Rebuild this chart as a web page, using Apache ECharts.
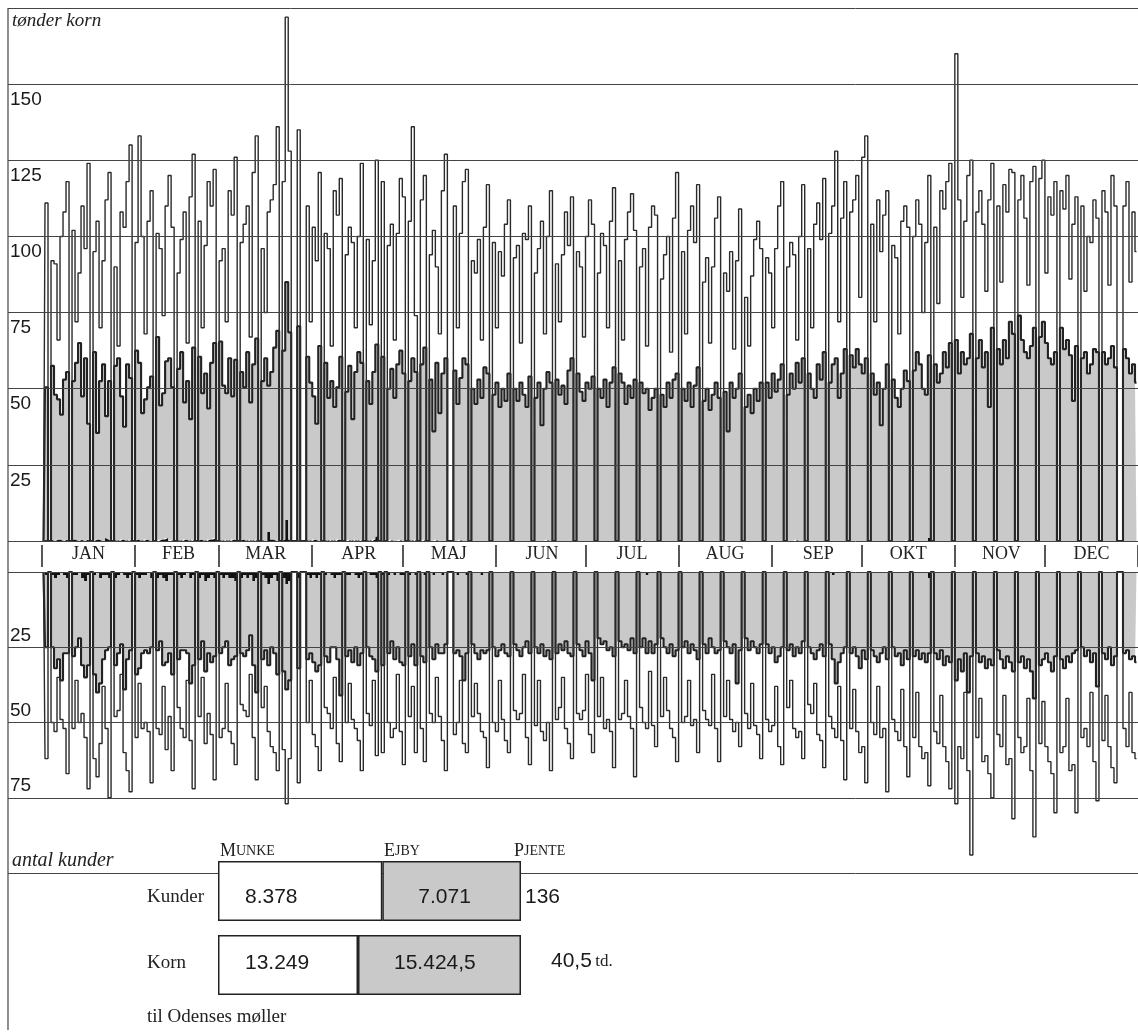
<!DOCTYPE html>
<html><head><meta charset="utf-8">
<script src="https://cdn.jsdelivr.net/npm/echarts@6/dist/echarts.min.js"></script>
<style>html,body{margin:0;padding:0;background:#fff}#c{width:1138px;height:1035px}</style>
</head><body><div id="c"></div>
<script>
// ---- labels ----
const months = ['JAN','FEB','MAR','APR','MAJ','JUN','JUL','AUG','SEP','OKT','NOV','DEC'];
const monthDays = [31,28,31,30,31,30,31,31,30,31,30,31];
const kornTicks = [25,50,75,100,125,150];
const kunderTicks = [25,50,75];

// ---- daily values 1937 (tønder korn), week rows Mon..Sun ----
const totalKorn = [
0,111,0,
92,91,66,100,108,118,0,
102,72,88,110,96,124,0,
95,105,70,92,112,121,0,
90,64,108,103,118,130,0,
98,133,100,68,105,115,0,
101,96,74,110,120,103,0,
88,99,108,65,113,127,0,
105,70,97,118,110,122,0,
92,96,72,115,107,126,0,
98,104,110,67,121,133,0,
96,75,108,112,117,136,0,
118,172,128,0,0,135,0,
0,110,72,103,92,121,0,
101,96,64,115,107,119,0,
94,103,98,70,100,124,0,
99,71,92,125,0,118,0,
97,104,66,101,119,113,0,
105,136,74,0,112,120,0,
94,102,90,68,115,127,0,
0,110,70,101,118,122,0,
92,88,99,66,103,117,0,
98,70,95,87,104,112,0,
93,97,65,101,99,110,0,
88,96,105,68,100,115,0,
91,72,94,108,97,113,0,
95,90,67,100,112,104,0,
88,101,97,70,105,116,0,
92,66,99,108,114,102,0,
90,96,64,103,110,107,0,
86,94,100,62,106,121,0,
95,68,102,110,98,117,0,
85,93,65,90,106,113,0,
88,82,95,63,92,109,0,
80,64,87,99,105,96,0,
93,88,70,96,110,118,0,
90,98,94,66,100,117,0,
96,70,104,111,99,119,0,
101,110,128,72,106,118,0,
108,112,120,80,126,133,0,
104,72,112,95,107,115,0,
97,93,68,105,110,103,0,
100,112,104,75,98,120,0,
103,78,115,109,118,124,0,
160,112,80,105,120,125,0,
108,115,104,82,112,124,0,
110,85,117,108,122,121,0,
112,120,106,84,118,123,0,
119,125,88,113,107,118,0,
115,109,120,86,104,113,0,
110,82,100,98,112,106,0,
115,108,84,120,110,0,0,
110,118,85,108,95
];
const ejbyKorn = [
0,50,0,
57,48,46,41,53,55,0,
52,58,65,47,60,38,0,
62,35,52,58,40,52,0,
57,60,47,37,58,53,0,
62,58,42,46,50,54,0,
67,44,48,58,60,50,0,
56,62,45,52,40,63,0,
60,48,55,43,58,64,0,
65,51,48,60,47,59,0,
55,50,62,45,58,66,0,
52,60,48,55,63,69,0,
62,78,68,0,0,70,0,
0,60,52,47,38,64,0,
58,47,52,44,50,60,0,
49,57,40,55,62,58,0,
52,45,55,63,0,60,0,
50,56,47,58,62,55,0,
52,60,55,0,58,63,0,
53,36,58,42,55,60,0,
0,56,45,53,60,58,0,
50,45,53,47,57,55,0,
48,52,44,50,46,55,0,
50,46,52,48,44,54,0,
47,52,38,50,55,52,0,
53,48,51,45,56,60,0,
55,49,46,52,50,54,0,
50,47,53,44,52,57,0,
55,52,45,51,47,53,0,
52,48,50,43,47,50,0,
48,44,52,47,53,55,0,
50,46,52,44,51,57,0,
46,50,43,48,52,47,0,
49,36,52,47,50,55,0,
44,48,42,50,46,52,0,
52,47,55,49,53,58,0,
48,55,50,58,52,60,0,
55,50,47,58,53,62,0,
52,58,60,47,55,63,0,
61,57,63,58,55,60,0,
55,48,52,38,50,58,0,
53,47,44,50,56,52,0,
56,62,58,50,48,60,0,
58,52,55,62,57,65,0,
66,55,62,58,60,68,0,
60,66,57,62,44,70,0,
63,58,66,60,72,68,0,
74,66,62,60,64,70,0,
67,72,65,60,58,62,0,
70,63,66,61,46,64,0,
60,62,55,58,63,62,0,
62,58,60,64,57,0,0,
63,60,55,58,52
];
const pjenteKorn = [
0,0.5,0,
0.5,0,0.5,0.5,0,0.5,0,
0.5,0.5,0,0.5,0,0.5,0,
0,0.5,0.5,0,1,0.5,0,
0.5,0,0.5,0.5,0,0.5,0,
0.5,0.5,0,0.5,0.5,0,0,
0,0.5,0.5,1,0,0.5,0,
0.5,0,0.5,0.5,0,0.5,0,
0.5,0.5,0,0.5,0.5,1,0,
0.5,0,0.5,0,0.5,0.5,0,
0.5,0.5,0,0.5,0,0.5,0,
0.5,0,3,0.5,0.5,0,0,
0.5,7,0.5,0,0,0.5,0,
0,0.5,0,0.5,0.5,0,0,
0.5,0,0.5,0,0.5,0.5,0,
0,0.5,0,0.5,0,0.5,0,
0.5,0,0.5,1.5,0,0.5,0,
0,0.5,0,0,0.5,0,0,
0.5,0,0.5,0,0,0.5,0,
0,0,0.5,0,0,0,0,
0,0,0,0.5,0,0,0,
0,0,0,0,0,0,0,
0,0,0,0,0,0,0,
0,0,0,0,0,0,0,
0,0,0,0,0.5,0,0,
0,0,0,0,0,0,0,
0,0,0,0,0,0,0,
0,0,0,0,0,0,0,
0,0,0,0,0,0,0,
0,0.5,0,0,0,0,0,
0,0,0,0,0,0,0,
0,0,0,0,0,0,0,
0,0,0,0,0,0,0,
0,0,0,0,0,0,0,
0,0,0,0,0,0,0,
0,0,0,0,0,0,0,
0,0,0,0.5,0,0,0,
0,0,0,0,0,0,0,
0,0,0,0,0,0,0,
0,0,0,0,0,0,0,
0,0,0,0,0,0,0,
0,0,0,0,0,0.5,0,
0,0,0,0,0,1,0,
0,0,0,0,0,0,0,
0,0,0,0,0,0,0,
0,0,0,0,0,0,0,
0,0,0,0,0,0,0,
0,0,0,0,0,0,0,
0,0,0,0,0,0,0,
0,0,0,0,0,0,0,
0,0,0,0,0
];

// ---- daily values (antal kunder) ----
const totalKunder = [
0,62,0,
50,53,35,49,52,67,0,
52,36,50,47,55,72,0,
62,68,57,38,52,75,0,
48,46,34,60,66,73,0,
55,37,52,50,53,70,0,
52,54,38,59,48,66,0,
45,52,55,36,56,72,0,
48,35,57,47,54,69,0,
55,52,37,53,57,64,0,
44,46,48,34,55,69,0,
45,38,53,58,60,66,0,
59,77,62,0,0,70,0,
0,50,36,54,58,66,0,
45,47,52,35,57,63,0,
50,37,49,52,56,66,0,
47,51,36,61,0,60,0,
50,55,52,34,53,64,0,
48,38,60,0,52,63,0,
47,50,35,48,56,66,0,
0,54,50,36,57,60,0,
48,37,47,53,55,65,0,
50,53,36,49,56,60,0,
46,49,47,34,55,64,0,
51,36,53,56,50,66,0,
49,45,35,52,57,62,0,
47,49,46,34,54,60,0,
48,35,52,49,53,65,0,
49,47,36,48,52,68,0,
45,50,52,33,51,58,0,
48,35,46,52,55,63,0,
50,48,36,51,49,60,0,
46,49,51,34,52,63,0,
48,36,49,53,50,58,0,
47,52,37,51,54,62,0,
49,53,51,38,58,64,0,
45,36,52,55,53,62,0,
44,47,37,54,56,65,0,
48,52,55,38,56,69,0,
52,39,53,60,58,70,0,
50,54,38,55,52,73,0,
49,53,56,39,58,68,0,
55,40,58,62,60,71,0,
53,57,41,58,63,72,0,
77,58,62,40,66,94,0,
55,42,63,61,67,75,0,
54,58,41,64,62,82,0,
55,60,58,42,66,88,0,
57,43,58,63,67,80,0,
60,58,42,66,64,80,0,
55,52,58,40,63,76,0,
56,41,58,65,70,0,0,
52,58,40,60,62
];
const ejbyKunder = [
0,24,0,
24,30,28,36,26,25,0,
27,24,22,29,32,30,0,
33,40,35,28,25,23,0,
29,26,24,38,27,25,0,
33,30,26,25,27,23,0,
24,22,29,27,26,33,0,
28,24,25,27,35,30,0,
27,22,30,25,29,26,0,
26,23,22,29,27,25,0,
25,27,24,20,28,38,0,
28,24,27,23,26,31,0,
31,35,33,0,0,30,0,
0,28,25,29,31,30,0,
27,30,24,23,28,40,0,
27,25,30,24,29,26,0,
25,27,28,31,0,30,0,
26,23,28,25,29,30,0,
27,24,30,0,28,29,0,
25,28,24,27,26,24,0,
0,27,25,28,36,26,0,
24,27,29,25,27,26,0,
25,28,26,24,27,28,0,
24,26,28,25,23,27,0,
25,27,24,28,26,29,0,
27,24,26,23,27,28,0,
24,26,28,23,27,36,0,
22,24,23,26,25,28,0,
23,25,24,26,22,27,0,
25,22,26,23,27,24,0,
22,25,27,24,28,26,0,
25,23,27,24,26,29,0,
24,27,22,25,27,26,0,
23,25,27,24,37,26,0,
22,26,23,25,27,24,0,
24,27,25,30,28,25,0,
26,24,28,25,27,23,0,
25,27,29,26,24,28,0,
24,28,37,30,27,25,0,
27,25,28,32,26,29,0,
26,28,30,27,25,29,0,
25,28,27,31,26,29,0,
28,26,29,27,30,25,0,
27,29,26,31,28,30,0,
36,29,33,27,40,28,0,
27,30,28,32,29,31,0,
26,29,32,28,30,33,0,
30,28,32,29,33,42,0,
31,29,27,30,33,28,0,
29,32,28,30,27,26,0,
25,28,26,30,27,38,0,
27,29,25,31,28,0,0,
27,26,29,28,30
];
const pjenteKunder = [
0,1,0,
1,2,1,0,1,2,0,
1,1,0,2,3,1,0,
1,0,2,1,1,2,0,
2,1,0,1,2,1,0,
1,2,1,1,0,2,0,
2,1,2,3,1,1,0,
1,2,1,0,2,1,0,
2,1,3,2,1,2,0,
1,2,1,2,2,3,0,
2,1,2,1,3,2,0,
1,2,4,2,1,3,0,
2,4,3,0,0,2,0,
0,1,2,1,2,1,0,
1,0,1,2,1,1,0,
1,1,0,1,2,1,0,
0,1,1,2,0,1,0,
1,0,1,0,1,1,0,
1,0,1,0,0,1,0,
0,1,0,0,1,0,0,
0,0,1,0,0,1,0,
0,0,0,1,0,0,0,
0,0,0,0,0,0,0,
0,0,0,0,0,0,0,
0,0,0,0,0,0,0,
0,0,0,0,0,0,0,
0,0,0,0,0,0,0,
0,0,0,0,0,0,0,
0,0,0,0,0,0,0,
0,0,1,0,0,0,0,
0,0,0,0,0,0,0,
0,0,0,0,0,0,0,
0,0,0,0,0,0,0,
0,0,0,0,0,0,0,
0,0,0,0,0,0,0,
0,0,0,0,0,0,0,
0,0,0,0,0,0,0,
0,0,0,0,0,0,0,
0,1,0,0,0,0,0,
0,0,0,0,0,0,0,
0,0,0,0,0,0,0,
0,0,0,0,0,0,0,
0,0,0,0,0,2,0,
0,0,0,0,0,0,0,
0,0,0,0,0,0,0,
0,0,0,0,0,0,0,
0,0,0,0,0,0,0,
0,0,0,0,0,0,0,
0,0,0,0,0,0,0,
0,0,0,0,0,0,0,
0,0,0,0,0
];

// ---- year totals (til Odenses møller) ----
const summaryRows = ['Kunder','Korn'];
const munkeTotal = [8378, 13249];
const ejbyTotal = [7071, 15424.5];
const pjenteTotal = [136, 40.5];

// ---------- build ----------
const dayMonth = [];
const monthStart = new Set();
const monthMid = new Set();
months.forEach((m, i) => {
  monthStart.add(dayMonth.length);
  monthMid.add(dayMonth.length + Math.floor(monthDays[i] / 2));
  for (let k = 0; k < monthDays[i]; k++) dayMonth.push(m);
});
function fmtDa(v) {
  const parts = String(v).split('.');
  return parts[0].replace(/\B(?=(\d{3})+(?!\d))/g, '.') + (parts[1] ? ',' + parts[1] : '');
}
const rowOffset = [[0, 6], [0, -2]];
const munkeShare = munkeTotal.map((v, i) => ({value: v / (v + ejbyTotal[i]), label: {offset: rowOffset[i]}}));
const ejbyShare = ejbyTotal.map((v, i) => ({value: v / (munkeTotal[i] + v), label: {offset: rowOffset[i]}}));

const SANS = 'Liberation Sans, Arial, sans-serif';
const SERIF = 'Liberation Serif, Times New Roman, serif';
const LINE = '#2a2a2a';
const GRAY = '#c9c9c9';

const chart = echarts.init(document.getElementById('c'), null, {renderer: 'canvas'});
const hiddenCat = (gi) => ({type: 'category', gridIndex: gi, data: dayMonth, boundaryGap: true, show: false});
const hiddenVal = (gi, extra) => Object.assign({type: 'value', gridIndex: gi, show: false, splitLine: {show: false}}, extra || {});
const stepLine = (name, data, xi, stack, lineColor, lineWidth, area) => ({
  name, type: 'line', step: 'middle', data, xAxisIndex: xi, yAxisIndex: xi,
  stack: stack, symbol: 'none', silent: true, z: 3,
  lineStyle: {color: lineColor, width: lineWidth},
  areaStyle: area ? {color: area, opacity: 1} : undefined
});
const smallCaps = (first, rest) => ({
  text: '{a|' + first + '}{b|' + rest + '}',
  rich: {a: {fontFamily: SERIF, fontSize: 18, fill: '#222'}, b: {fontFamily: SERIF, fontSize: 14, fill: '#222'}}
});

chart.setOption({
  animation: false,
  backgroundColor: '#fff',
  grid: [
    {left: 8, right: 0, top: 8, height: 533},          // 0 top background
    {left: 8, right: 0, top: 572, height: 301},        // 1 bottom background
    {left: 42, right: -8, top: 8, height: 533},        // 2 top data
    {left: 42, right: -8, top: 572, height: 301},      // 3 bottom data
    {left: 42, right: -8, top: 545, height: 22},       // 4 month band
    {left: 218, width: 303, top: 854, height: 148}     // 5 summary
  ],
  xAxis: [
    hiddenVal(0, {min: 0, max: 1}),
    hiddenVal(1, {min: 0, max: 1}),
    hiddenCat(2),
    hiddenCat(3),
    {type: 'category', gridIndex: 4, data: dayMonth, boundaryGap: true,
      axisLine: {show: false},
      axisTick: {show: true, inside: true, length: 22, interval: (i) => monthStart.has(i), lineStyle: {color: '#222', width: 1.5}},
      axisLabel: {show: true, inside: true, margin: 4, interval: (i) => monthMid.has(i), fontFamily: SERIF, fontSize: 18, color: '#222'},
      splitLine: {show: false}},
    hiddenVal(5, {min: 0, max: 1})
  ],
  yAxis: [
    {type: 'value', gridIndex: 0, min: 0, max: 175, interval: 25, z: 5,
      axisLine: {show: false}, axisTick: {show: false},
      splitLine: {show: true, lineStyle: {color: '#444', width: 1}},
      axisLabel: {inside: true, margin: 2, verticalAlign: 'top', padding: [6, 0, 0, 0],
        fontFamily: SANS, fontSize: 19, color: '#1a1a1a',
        formatter: (v) => kornTicks.includes(v) ? String(v) : ''}},
    {type: 'value', gridIndex: 1, min: 0, max: 100, interval: 25, inverse: true, z: 5,
      axisLine: {show: false}, axisTick: {show: false},
      splitLine: {show: true, lineStyle: {color: '#444', width: 1}},
      axisLabel: {inside: true, margin: 2, verticalAlign: 'bottom', padding: [0, 0, 2, 0],
        fontFamily: SANS, fontSize: 19, color: '#1a1a1a',
        formatter: (v) => kunderTicks.includes(v) ? String(v) : ''}},
    hiddenVal(2, {min: 0, max: 175}),
    hiddenVal(3, {min: 0, max: 100, inverse: true}),
    hiddenVal(4, {min: 0, max: 1}),
    {type: 'category', gridIndex: 5, data: summaryRows, inverse: true,
      axisLine: {show: false}, axisTick: {show: false},
      axisLabel: {show: true, margin: 71, align: 'left', fontFamily: SERIF, fontSize: 19, color: '#222',
        formatter: (v) => v === summaryRows[0] ? '{k|' + v + '}' : '{r|' + v + '}',
        rich: {k: {fontFamily: SERIF, fontSize: 19, padding: [12, 0, 0, 0]}, r: {fontFamily: SERIF, fontSize: 19, padding: [0, 0, 4, 0]}}}}
  ],
  series: [
    stepLine('Pjente korn', pjenteKorn, 2, 'korn', 'rgba(0,0,0,0)', 0, '#111'),
    stepLine('Ejby korn', ejbyKorn, 2, 'korn', '#222', 2.1, GRAY),
    stepLine('I alt korn', totalKorn, 2, null, LINE, 1.4, null),
    stepLine('Pjente kunder', pjenteKunder, 3, 'kunder', 'rgba(0,0,0,0)', 0, '#111'),
    stepLine('Ejby kunder', ejbyKunder, 3, 'kunder', '#222', 2.1, GRAY),
    stepLine('I alt kunder', totalKunder, 3, null, LINE, 1.4, null),
    {name: 'Munke', type: 'bar', xAxisIndex: 5, yAxisIndex: 5, stack: 'sum', barWidth: 60, z: 10,
      data: munkeShare, silent: true,
      itemStyle: {color: '#fff', borderColor: '#222', borderWidth: 1.5},
      label: {show: true, position: 'insideLeft', distance: 27, fontFamily: SANS, fontSize: 21, color: '#1a1a1a',
        formatter: (p) => fmtDa(munkeTotal[p.dataIndex])}},
    {name: 'Ejby', type: 'bar', xAxisIndex: 5, yAxisIndex: 5, stack: 'sum', barWidth: 60, z: 10,
      data: ejbyShare, silent: true,
      itemStyle: {color: GRAY, borderColor: '#222', borderWidth: 1.5},
      label: {show: true, position: 'insideLeft', distance: 36, fontFamily: SANS, fontSize: 21, color: '#1a1a1a',
        formatter: (p) => fmtDa(ejbyTotal[p.dataIndex])}}
  ],
  graphic: [
    {type: 'line', shape: {x1: 8, y1: 8, x2: 8, y2: 1030}, style: {stroke: '#444', lineWidth: 1.2}, z: 20},
    {type: 'text', left: 12, top: 11, style: {text: 'tønder korn', font: 'italic 19px ' + SERIF, fill: '#222'}, z: 20},
    {type: 'text', left: 12, top: 851, style: {text: 'antal kunder', font: 'italic 20px ' + SERIF, fill: '#222'}, z: 20},
    {type: 'text', left: 220, top: 842, z: 20, style: smallCaps('M', 'UNKE')},
    {type: 'text', left: 384, top: 842, z: 20, style: smallCaps('E', 'JBY')},
    {type: 'text', left: 514, top: 842, z: 20, style: smallCaps('P', 'JENTE')},
    {type: 'text', left: 525, top: 887, z: 20, style: {text: fmtDa(pjenteTotal[0]), font: '21px ' + SANS, fill: '#1a1a1a'}},
    {type: 'text', left: 551, top: 951, z: 20, style: {text: '{n|' + fmtDa(pjenteTotal[1]) + '} {u|td.}', rich: {n: {fontFamily: SANS, fontSize: 21, fill: '#1a1a1a'}, u: {fontFamily: SERIF, fontSize: 17, fill: '#222'}}}},
    {type: 'text', left: 147, top: 1008, z: 20, style: {text: 'til Odenses møller', font: '19px ' + SERIF, fill: '#222'}}
  ]
});
</script>
</body></html>
